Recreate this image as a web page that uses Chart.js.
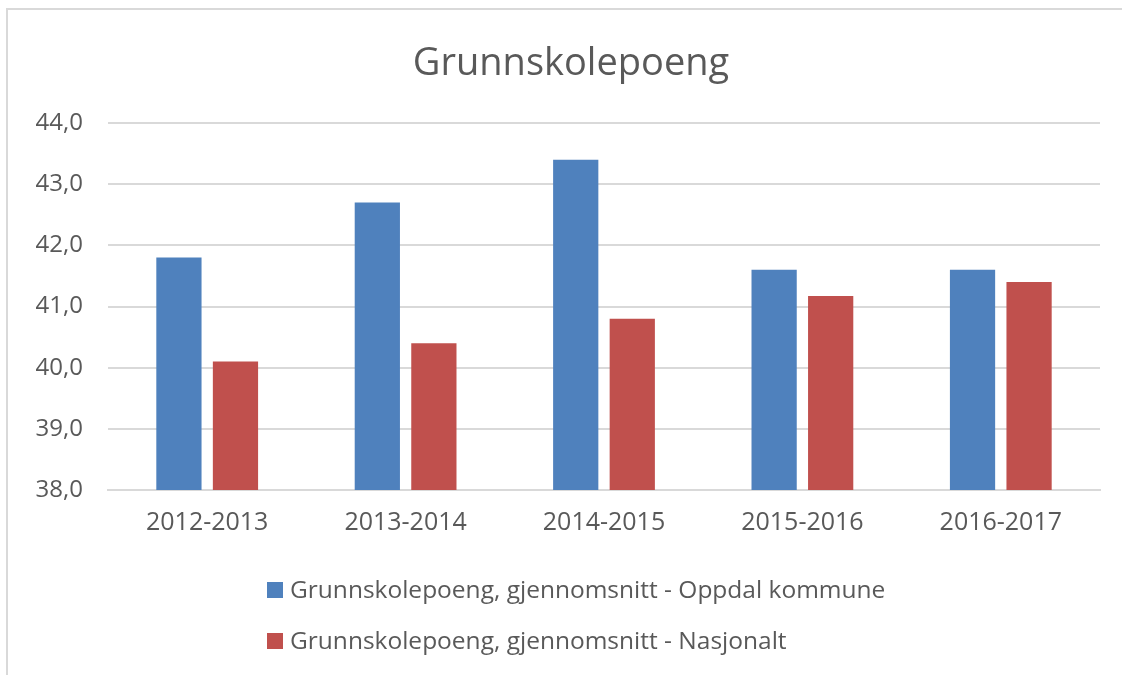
<!DOCTYPE html>
<html>
<head>
<meta charset="utf-8">
<script src="https://cdn.jsdelivr.net/npm/chart.js@4/dist/chart.umd.min.js"></script>
<style>
  html, body { margin: 0; padding: 0; background: #fff; }
  #wrap { position: relative; width: 1122px; height: 675px; overflow: hidden; }
  #frame { position: absolute; left: 6px; top: 8px; width: 1140px; height: 700px; border: 2px solid #d9d9d9; }
  #chart { position: absolute; left: 0; top: 0; }
</style>
</head>
<body>
<div id="wrap">
  <div id="frame"></div>
  <canvas id="chart" width="1122" height="675"></canvas>
</div>
<script>
// chart data
const categories = ['2012-2013', '2013-2014', '2014-2015', '2015-2016', '2016-2017'];
const oppdalValues = [41.8, 42.7, 43.4, 41.6, 41.6];
const nasjonaltValues = [40.1, 40.4, 40.8, 41.17, 41.4];
const seriesLabels = [
    'Grunnskolepoeng, gjennomsnitt - Oppdal kommune',
    'Grunnskolepoeng, gjennomsnitt - Nasjonalt'
];
const chartTitle = 'Grunnskolepoeng';
const yMin = 38;
const yMax = 44;

const textColor = '#595959';
const fontFamily = '"Open Sans", "Liberation Sans", sans-serif';

// Title centred on the chart frame (not on the canvas), as in the original
const frameTitle = {
    id: 'frameTitle',
    afterDraw(chart) {
        const ctx = chart.ctx;
        ctx.save();
        ctx.font = '38px ' + fontFamily;
        ctx.fillStyle = textColor;
        ctx.textAlign = 'center';
        ctx.textBaseline = 'middle';
        ctx.fillText(chartTitle, 571, 64);
        ctx.restore();
    }
};

// Legend stacked vertically, left aligned, like the Excel original
const stackedLegend = {
    id: 'stackedLegend',
    afterDraw(chart) {
        const ctx = chart.ctx;
        const x = 267;
        const rows = [590, 641];
        ctx.save();
        ctx.font = '24.5px ' + fontFamily;
        ctx.textBaseline = 'middle';
        chart.data.datasets.forEach((ds, i) => {
            ctx.fillStyle = ds.backgroundColor;
            ctx.fillRect(x, rows[i] - 8, 16, 16);
            ctx.fillStyle = textColor;
            ctx.fillText(ds.label, x + 23, rows[i] + 1);
        });
        ctx.restore();
    }
};

new Chart(document.getElementById('chart'), {
    type: 'bar',
    data: {
        labels: categories,
        datasets: [{
            label: seriesLabels[0],
            data: oppdalValues,
            backgroundColor: '#4f81bd'
        }, {
            label: seriesLabels[1],
            data: nasjonaltValues,
            backgroundColor: '#c0504d'
        }]
    },
    options: {
        responsive: false,
        animation: false,
        categoryPercentage: 0.57,
        barPercentage: 0.8,
        layout: {
            padding: { left: 8, right: 22, top: 123, bottom: 119 }
        },
        plugins: {
            legend: { display: false },
            tooltip: { enabled: false },
            title: { display: false }
        },
        scales: {
            x: {
                grid: { display: false, drawTicks: false },
                border: { display: true, color: '#d9d9d9', width: 2 },
                ticks: {
                    color: textColor,
                    padding: 18,
                    font: { family: fontFamily, size: 25 }
                }
            },
            y: {
                min: yMin,
                max: yMax,
                afterFit: (scale) => { scale.width = 100; },
                grid: { color: '#d9d9d9', lineWidth: 2, drawTicks: false },
                border: { display: false },
                ticks: {
                    stepSize: 1,
                    color: textColor,
                    padding: 25,
                    font: { family: fontFamily, size: 24 },
                    callback: (v) => v.toFixed(1).replace('.', ',')
                }
            }
        }
    },
    plugins: [frameTitle, stackedLegend]
});
</script>
</body>
</html>
